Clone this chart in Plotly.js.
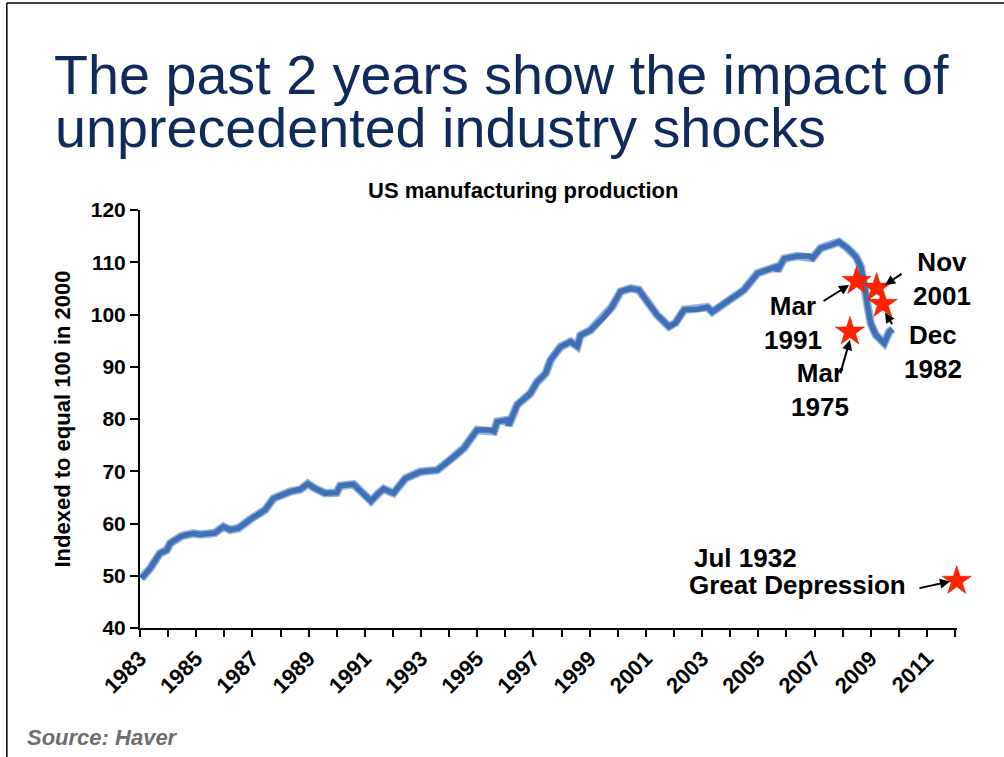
<!DOCTYPE html>
<html>
<head>
<meta charset="utf-8">
<script src="https://cdn.plot.ly/plotly-3.0.1.min.js"></script>
<style>
  html, body { margin: 0; padding: 0; background: #fff; }
  #chart { width: 1004px; height: 757px; }
</style>
</head>
<body>
<div id="chart"></div>
<script>
// ---- data ----
const lineYears = [1983.05, 1983.36, 1983.71, 1983.95, 1984.07, 1984.48, 1984.9, 1985.14, 1985.67, 1985.97,
  1986.2, 1986.5, 1986.98, 1987.45, 1987.75, 1988.05, 1988.34, 1988.7, 1988.97, 1989.23,
  1989.59, 1990.0, 1990.12, 1990.6, 1990.95, 1991.22, 1991.49, 1991.67, 1992.02, 1992.44,
  1992.97, 1993.57, 1994.04, 1994.52, 1994.99, 1995.47, 1995.6, 1995.71, 1996.06, 1996.12,
  1996.42, 1996.89, 1997.13, 1997.43, 1997.61, 1997.96, 1998.32, 1998.56, 1998.67, 1999.03,
  1999.5, 1999.8, 2000.1, 2000.46, 2000.75, 2001.05, 2001.4, 2001.82, 2002.06, 2002.36,
  2002.83, 2003.19, 2003.36, 2003.78, 2004.14, 2004.49, 2004.97, 2005.32, 2005.62, 2005.68,
  2005.92, 2006.39, 2006.81, 2006.93, 2007.22, 2007.58, 2007.87, 2008.17, 2008.47, 2008.65,
  2008.77, 2008.89, 2009.0, 2009.18, 2009.48, 2009.66, 2009.78];
const lineValues = [49.5, 51.4, 54.3, 54.9, 56.2, 57.6, 58.1, 57.9, 58.2, 59.4,
  58.8, 59.1, 61.0, 62.6, 64.8, 65.5, 66.1, 66.5, 67.6, 66.7,
  65.8, 65.9, 67.2, 67.5, 65.5, 64.3, 65.8, 66.6, 65.8, 68.6,
  69.9, 70.2, 72.2, 74.4, 77.9, 77.9, 77.6, 79.5, 79.8, 78.8,
  82.7, 84.9, 87.1, 88.7, 91.3, 93.8, 94.8, 93.9, 96.0, 97.0,
  99.5, 101.5, 104.4, 105.0, 104.7, 102.5, 99.9, 97.7, 98.4, 100.9,
  101.0, 101.4, 100.5, 102.1, 103.4, 104.7, 107.9, 108.6, 109.1, 108.4,
  110.7, 111.2, 111.2, 110.8, 112.7, 113.3, 113.9, 112.7, 111.1, 109.1,
  106.0, 101.5, 98.3, 96.1, 94.5, 96.7, 97.2];

const shockNames = ['Mar 1991', 'Nov 2001', 'Dec 1982', 'Mar 1975', 'Jul 1932'];
const shockX = [2008.50, 2009.21, 2009.43, 2008.26, 2012.06];
const shockY = [106.4, 105.1, 102.0, 96.7, 49.0];

const yTickVals = [40, 50, 60, 70, 80, 90, 100, 110, 120];
const xRange = [1983, 2012.07];
const yRange = [40, 120];

const titleLine1 = 'The past 2 years show the impact of';
const titleLine2 = 'unprecedented industry shocks';
const chartSubtitle = 'US manufacturing production';
const yTitle = 'Indexed to equal 100 in 2000';
const sourceText = 'Source: Haver';

// ---- styling ----
const FONT = 'Liberation Sans, Arial, Helvetica, sans-serif';
const bold = (size, color) => ({family: FONT, size: size, color: color || '#000', weight: 'bold'});

const traces = [
  { // lighter rim around the line
    x: lineYears, y: lineValues, type: 'scatter', mode: 'lines',
    line: {color: '#93b2de', width: 8.5}, hoverinfo: 'skip', showlegend: false
  },
  {
    x: lineYears, y: lineValues, type: 'scatter', mode: 'lines',
    line: {color: '#3f70b6', width: 5.5}, name: 'US manufacturing production', showlegend: false
  },
  {
    x: shockX, y: shockY, type: 'scatter', mode: 'markers', text: shockNames,
    cliponaxis: false,
    marker: {symbol: 'star', size: 22, color: '#ff2200', line: {color: '#e01800', width: 0.5}},
    showlegend: false
  }
];

const arrow = (x, y, ax, ay) => ({x: x, y: y, ax: ax, ay: ay, text: '', showarrow: true,
  arrowhead: 2, arrowsize: 1, arrowwidth: 2, arrowcolor: '#000'});

const annotations = [
  {xref: 'paper', yref: 'paper', x: -0.108, y: 1.323, xanchor: 'left', yanchor: 'middle', showarrow: false,
   text: titleLine1, font: {family: FONT, size: 55.7, color: '#102a5c'}},
  {xref: 'paper', yref: 'paper', x: -0.106, y: 1.196, xanchor: 'left', yanchor: 'middle', showarrow: false,
   text: titleLine2, font: {family: FONT, size: 55.7, color: '#102a5c'}},
  {xref: 'paper', yref: 'paper', x: 0.4687, y: 1.046, xanchor: 'center', yanchor: 'middle', showarrow: false,
   text: chartSubtitle, font: bold(22)},
  {xref: 'paper', yref: 'paper', x: -0.1405, y: -0.2608, xanchor: 'left', yanchor: 'middle', showarrow: false,
   text: '<i>' + sourceText + '</i>', font: bold(22, '#6e6e6e')},

  // shock labels
  {x: 2006.24, y: 98.4, showarrow: false, text: 'Mar<br>1991', font: bold(26), align: 'center'},
  {x: 2011.54, y: 106.8, showarrow: false, text: 'Nov<br>2001', font: bold(26), align: 'center'},
  {x: 2011.22, y: 92.8, showarrow: false, text: 'Dec<br>1982', font: bold(26), align: 'center'},
  {x: 2007.2, y: 85.6, showarrow: false, text: 'Mar<br>1975', font: bold(26), align: 'center'},
  {x: 2002.63, y: 53.44, xanchor: 'left', showarrow: false, text: 'Jul 1932', font: bold(26)},
  {x: 2002.45, y: 48.28, xanchor: 'left', showarrow: false, text: 'Great Depression', font: bold(26)},

  // arrows
  arrow(2008.23, 105.66, -27, 17),
  arrow(2009.51, 105.66, 18, -12),
  arrow(2009.51, 100.36, 8, 13),
  arrow(2008.26, 95.14, -10, 35),
  arrow(2011.82, 48.91, -32, 7)
];

const layout = {
  width: 1004, height: 757,
  margin: {l: 140, r: 47, t: 210, b: 129, pad: 0},
  paper_bgcolor: '#fff', plot_bgcolor: '#fff',
  font: {family: FONT, color: '#000'},
  showlegend: false,
  xaxis: {
    range: xRange, tick0: 1983, dtick: 2, tickangle: -45,
    ticks: 'outside', ticklen: 7, tickwidth: 2, tickcolor: '#000',
    showline: true, linewidth: 2, linecolor: '#000',
    showgrid: false, zeroline: false, fixedrange: true,
    tickfont: bold(22),
    minor: {dtick: 1, tick0: 1983, ticks: 'outside', ticklen: 7, tickwidth: 2, tickcolor: '#000', showgrid: false}
  },
  yaxis: {
    range: yRange, tickvals: yTickVals,
    ticks: 'outside', ticklen: 8, tickwidth: 2, tickcolor: '#000',
    showline: true, linewidth: 2, linecolor: '#000',
    showgrid: false, zeroline: false, fixedrange: true,
    tickfont: bold(21),
    title: {text: yTitle, font: bold(22), standoff: 14}
  },
  annotations: annotations,
  shapes: [
    {type: 'line', xref: 'paper', yref: 'paper', x0: -0.163, x1: 1.06, y0: 1.495, y1: 1.495, line: {color: '#000', width: 1.5}},
    {type: 'line', xref: 'paper', yref: 'paper', x0: -0.163, x1: -0.163, y0: 1.495, y1: -0.31, line: {color: '#000', width: 1.5}}
  ]
};

Plotly.newPlot('chart', traces, layout, {staticPlot: true, displayModeBar: false});
</script>
</body>
</html>
